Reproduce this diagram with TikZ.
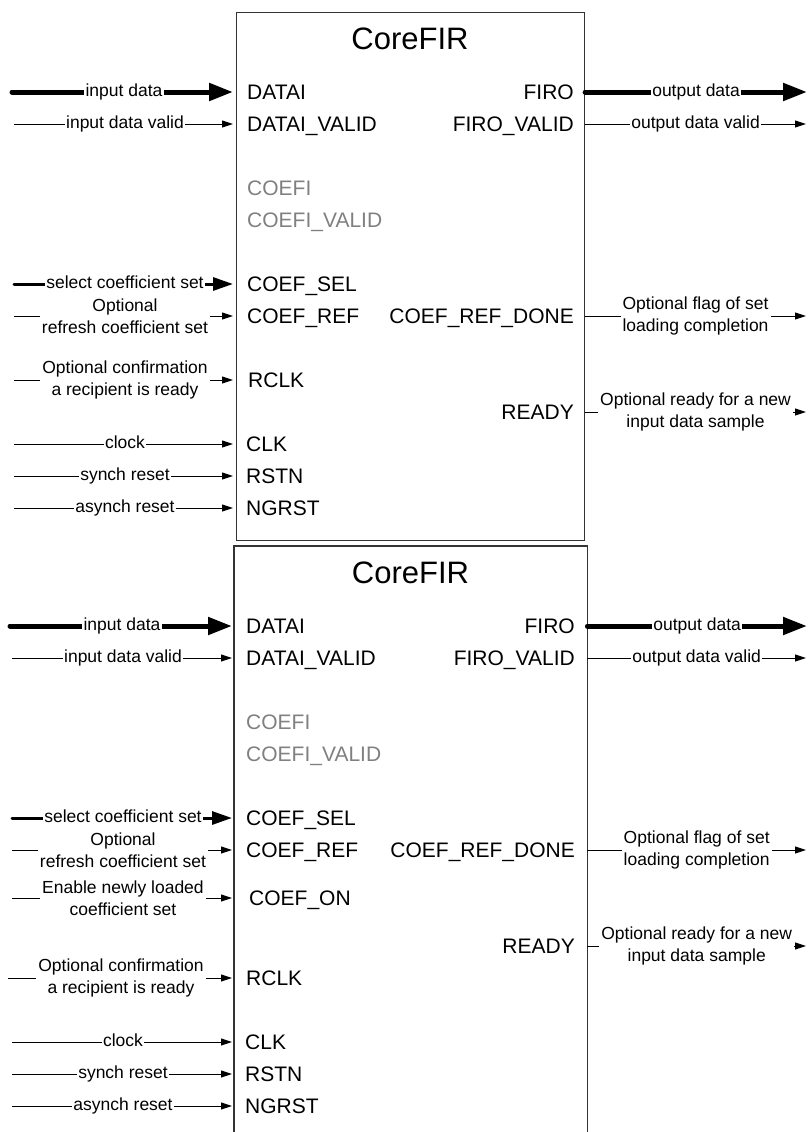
\documentclass[tikz,border=0pt]{standalone}
\usepackage{fontspec}
\setmainfont{Liberation Sans}
\usetikzlibrary{arrows.meta}
\begin{document}
\begin{tikzpicture}[x=1pt,y=-1pt,
  boxline/.style={draw=black!80,line width=1.1pt},
  port/.style={font=\fontsize{21}{25}\selectfont,text height=15.1pt,text depth=0pt,inner sep=0pt},
  inport/.style={port,anchor=west},
  outport/.style={port,anchor=east},
  dimport/.style={text=black!50},
  title/.style={font=\fontsize{31}{36}\selectfont,inner sep=0pt},
  lab/.style={font=\fontsize{17.5}{21}\selectfont,fill=white,inner sep=1.2pt,text height=12.6pt,text depth=3.7pt},
  labtwo/.style={font=\fontsize{17.5}{21.5}\selectfont,fill=white,inner sep=2pt,align=center},
  buswire/.style={line width=5pt,line cap=round,-{Triangle[length=24pt,width=17pt]}},
  sigwire/.style={line width=1pt,-{Triangle[length=11pt,width=7pt]}},
]
\useasboundingbox (0,0) rectangle (807,1132);

% ---------------- Box A ----------------
\node[boxline,minimum width=348pt,minimum height=528pt,anchor=north west,inner sep=0pt] (boxA) at (236,12) {};
\node[title] (tA) at (410,38.5) {CoreFIR};

\node[inport] (aDATAI) at (247,92) {DATAI};
\node[inport] (aDATAIV) at (247,124) {DATAI\_VALID};
\node[inport,dimport] (aCOEFI) at (247,188) {COEFI};
\node[inport,dimport] (aCOEFIV) at (247,220) {COEFI\_VALID};
\node[inport] (aSEL) at (247,284) {COEF\_SEL};
\node[inport] (aREF) at (247,316) {COEF\_REF};
\node[inport] (aRCLK) at (248,380) {RCLK};
\node[inport] (aCLK) at (246,444) {CLK};
\node[inport] (aRSTN) at (246,476) {RSTN};
\node[inport] (aNGRST) at (246,508) {NGRST};

\node[outport] (aFIRO) at (574,92) {FIRO};
\node[outport] (aFIROV) at (574,124) {FIRO\_VALID};
\node[outport] (aDONE) at (574,316) {COEF\_REF\_DONE};
\node[outport] (aREADY) at (574,412) {READY};

\coordinate (aS1) at (12,92);
\coordinate (aS2) at (14,124);
\coordinate (aS3) at (14,284);
\coordinate (aS4) at (14,316);
\coordinate (aS5) at (14,380);
\coordinate (aS6) at (14,444);
\coordinate (aS7) at (14,476);
\coordinate (aS8) at (14,508);
\draw[buswire,shorten >=3pt] (aS1) -- (aS1 -| boxA.west) node[lab,midway] {input data};
\draw[sigwire,shorten >=3pt] (aS2) -- (aS2 -| boxA.west) node[lab,midway] {input data valid};
\draw[buswire,line width=3pt,-{Triangle[length=20pt,width=13pt]},shorten >=3pt] (aS3) -- (aS3 -| boxA.west) node[lab,midway] {select coefficient set};
\draw[sigwire,shorten >=3pt] (aS4) -- (aS4 -| boxA.west) node[labtwo,midway] {Optional\\refresh coefficient set};
\draw[sigwire,shorten >=3pt] (aS5) -- (aS5 -| boxA.west) node[labtwo,midway] {Optional confirmation\\a recipient is ready};
\draw[sigwire,shorten >=3pt] (aS6) -- (aS6 -| boxA.west) node[lab,midway] {clock};
\draw[sigwire,shorten >=3pt] (aS7) -- (aS7 -| boxA.west) node[lab,midway] {synch reset};
\draw[sigwire,shorten >=3pt] (aS8) -- (aS8 -| boxA.west) node[lab,midway] {asynch reset};

\coordinate (aE1) at (807,92);
\coordinate (aE2) at (806,124);
\coordinate (aE3) at (806,316);
\coordinate (aE4) at (806,412);
\draw[buswire] (aE1 -| boxA.east) -- (aE1) node[lab,midway] {output data};
\draw[sigwire] (aE2 -| boxA.east) -- (aE2) node[lab,midway] {output data valid};
\draw[sigwire] (aE3 -| boxA.east) -- (aE3) node[labtwo,midway] {Optional flag of set\\loading completion};
\draw[sigwire] (aE4 -| boxA.east) -- (aE4) node[labtwo,midway] {Optional ready for a new\\input data sample};

% ---------------- Box B ----------------
\node[minimum width=353pt,minimum height=600pt,anchor=north west,inner sep=0pt] (boxB) at (234,546) {};
\draw[boxline] (boxB.south west) -- (boxB.north west) -- (boxB.north east) -- (boxB.south east);
\node[title] (tB) at (410.5,572.5) {CoreFIR};

\node[inport] (bDATAI) at (246,626) {DATAI};
\node[inport] (bDATAIV) at (246,658) {DATAI\_VALID};
\node[inport,dimport] (bCOEFI) at (246,722) {COEFI};
\node[inport,dimport] (bCOEFIV) at (246,754) {COEFI\_VALID};
\node[inport] (bSEL) at (246,818) {COEF\_SEL};
\node[inport] (bREF) at (246,850) {COEF\_REF};
\node[inport] (bON) at (249,898) {COEF\_ON};
\node[inport] (bRCLK) at (246,978) {RCLK};
\node[inport] (bCLK) at (245,1042) {CLK};
\node[inport] (bRSTN) at (245,1074) {RSTN};
\node[inport] (bNGRST) at (245,1106) {NGRST};

\node[outport] (bFIRO) at (575,626) {FIRO};
\node[outport] (bFIROV) at (575,658) {FIRO\_VALID};
\node[outport] (bDONE) at (575,850) {COEF\_REF\_DONE};
\node[outport] (bREADY) at (575,946) {READY};

\coordinate (bS1) at (10,626);
\coordinate (bS2) at (12,658);
\coordinate (bS3) at (12,818);
\coordinate (bS4) at (12,850);
\coordinate (bS5) at (12,898);
\coordinate (bS6) at (8,978);
\coordinate (bS7) at (12,1042);
\coordinate (bS8) at (12,1074);
\coordinate (bS9) at (12,1106);
\draw[buswire,shorten >=2pt] (bS1) -- (bS1 -| boxB.west) node[lab,midway] {input data};
\draw[sigwire,shorten >=2pt] (bS2) -- (bS2 -| boxB.west) node[lab,midway] {input data valid};
\draw[buswire,line width=3pt,-{Triangle[length=20pt,width=13pt]},shorten >=2pt] (bS3) -- (bS3 -| boxB.west) node[lab,midway] {select coefficient set};
\draw[sigwire,shorten >=2pt] (bS4) -- (bS4 -| boxB.west) node[labtwo,midway] {Optional\\refresh coefficient set};
\draw[sigwire,shorten >=2pt] (bS5) -- (bS5 -| boxB.west) node[labtwo,midway] {Enable newly loaded\\coefficient set};
\draw[sigwire,shorten >=2pt] (bS6) -- (bS6 -| boxB.west) node[labtwo,midway] {Optional confirmation\\a recipient is ready};
\draw[sigwire,shorten >=2pt] (bS7) -- (bS7 -| boxB.west) node[lab,midway] {clock};
\draw[sigwire,shorten >=2pt] (bS8) -- (bS8 -| boxB.west) node[lab,midway] {synch reset};
\draw[sigwire,shorten >=2pt] (bS9) -- (bS9 -| boxB.west) node[lab,midway] {asynch reset};

\coordinate (bE1) at (807,626);
\coordinate (bE2) at (806,658);
\coordinate (bE3) at (806,850);
\coordinate (bE4) at (806,946);
\draw[buswire] (bE1 -| boxB.east) -- (bE1) node[lab,midway] {output data};
\draw[sigwire] (bE2 -| boxB.east) -- (bE2) node[lab,midway] {output data valid};
\draw[sigwire] (bE3 -| boxB.east) -- (bE3) node[labtwo,midway] {Optional flag of set\\loading completion};
\draw[sigwire] (bE4 -| boxB.east) -- (bE4) node[labtwo,midway] {Optional ready for a new\\input data sample};
\end{tikzpicture}
\end{document}
